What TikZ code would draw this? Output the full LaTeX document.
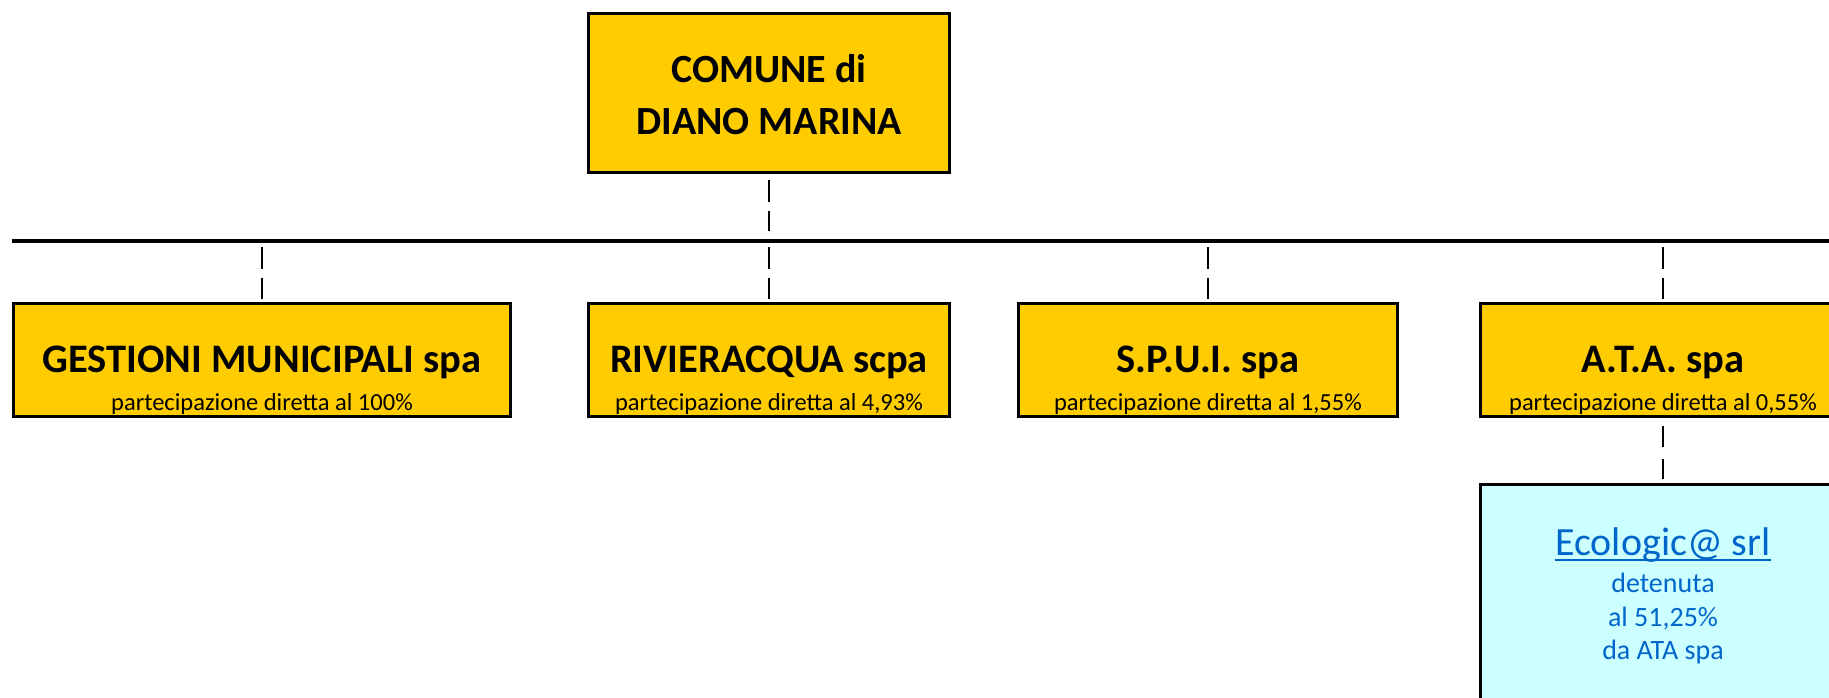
\documentclass[tikz,border=0pt]{standalone}
\usepackage{fontspec}
\setmainfont{Carlito}
\usepackage{xcolor}
\usepackage{tikz}
\definecolor{boxyellow}{HTML}{FFCC00}
\definecolor{boxcyan}{HTML}{CCFFFF}
\definecolor{linkblue}{HTML}{0066CC}

\begin{document}
\begin{tikzpicture}[x=1pt,y=-1pt,
	unit/.style={draw=black,line width=3pt,fill=boxyellow,minimum height=113pt,inner sep=0pt,
		text height=26pt,text depth=0pt,font=\fontsize{40.5}{48}\selectfont\bfseries},
	head/.style={draw=black,line width=3pt,fill=boxyellow,minimum width=361pt,minimum height=159pt,
		inner sep=0pt,align=center,font=\fontsize{40}{52}\selectfont\bfseries},
	share/.style={anchor=base,inner sep=0pt,font=\fontsize{24.5}{28}\selectfont},
	held/.style={draw=black,line width=3pt,fill=boxcyan,minimum width=365pt,minimum height=400pt},
	heldtext/.style={anchor=base,inner sep=0pt,text=linkblue,font=\fontsize{28}{33}\selectfont},
	bus/.style={line width=4pt},
	link/.style={line width=2pt,dash pattern=on 21.5pt off 9pt}]
	\useasboundingbox (0,0) rectangle (1829,697);
	\clip (0,0) rectangle (1829,697);
	\node[head] at (769,93) (com) {\rule{0pt}{32pt}COMUNE di\\DIANO MARINA};
	\coordinate (busL) at (12,241);
	\coordinate (busR) at (1829,241);
	\draw[bus] (busL) -- (busR);
	\draw[link,shorten <=6pt,shorten >=10pt] (com.south) -- (com.south |- busL);

	\node[unit,minimum width=497pt] at (262,359.5) (gm) {GESTIONI MUNICIPALI spa};
	\node[share] at ([yshift=7pt]gm.south) (gmP) {partecipazione diretta al 100\%};
	\node[unit,minimum width=361pt] at (769,359.5) (riv) {RIVIERACQUA scpa};
	\node[share] at ([yshift=7pt]riv.south) (rivP) {partecipazione diretta al 4,93\%};
	\node[unit,minimum width=379pt] at (1208,359.5) (spui) {S.P.U.I. spa};
	\node[share] at ([yshift=7pt]spui.south) (spuiP) {partecipazione diretta al 1,55\%};
	\node[unit,minimum width=365pt] at (1663,359.5) (ata) {A.T.A. spa};
	\node[share] at ([yshift=7pt]ata.south) (ataP) {partecipazione diretta al 0,55\%};
	\draw[link,shorten <=6pt,shorten >=2.5pt] (gm.north |- busL) -- (gm.north);
	\draw[link,shorten <=6pt,shorten >=2.5pt] (riv.north |- busL) -- (riv.north);
	\draw[link,shorten <=6pt,shorten >=2.5pt] (spui.north |- busL) -- (spui.north);
	\draw[link,shorten <=6pt,shorten >=2.5pt] (ata.north |- busL) -- (ata.north);

	\node[held] at (1663,684.5) (eco) {};
	\draw[link,shorten <=8.5pt,shorten >=4pt,dash pattern=on 21pt off 12pt] (ata.south) -- (eco.north);
	\node[heldtext,font=\fontsize{40}{44}\selectfont] at (1663,555) (ecoT) {Ecologic@ srl};
	\draw[linkblue,line width=2pt] ([yshift=-4.5pt]ecoT.base west) -- ([yshift=-4.5pt]ecoT.base east);
	\node[heldtext] at (1663,592) (ecoA) {detenuta};
	\node[heldtext] at (1663,626) (ecoB) {al 51,25\%};
	\node[heldtext] at (1663,659) (ecoC) {da ATA spa};
\end{tikzpicture}
\end{document}
